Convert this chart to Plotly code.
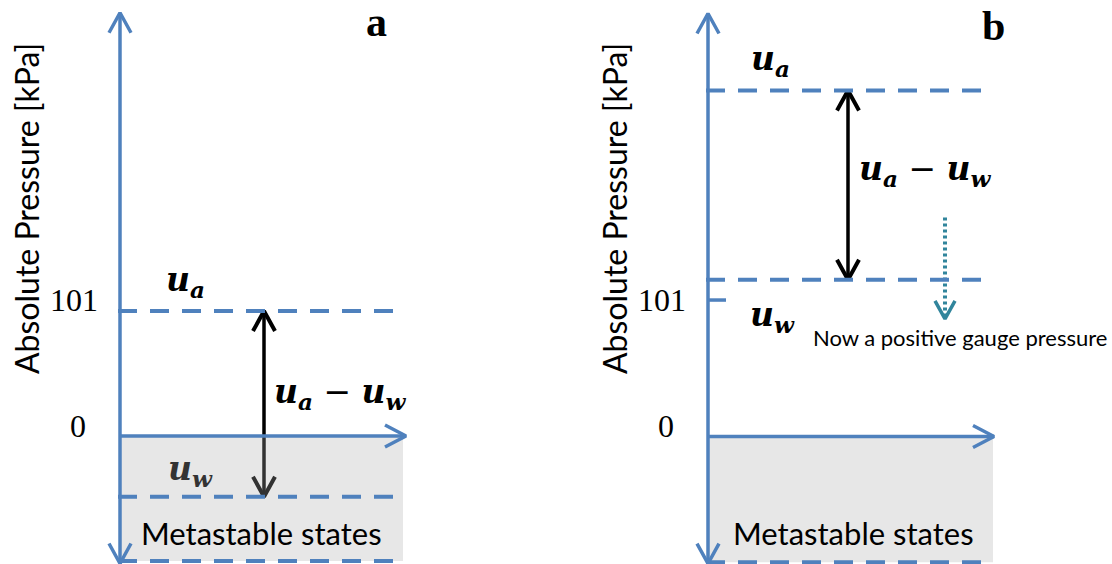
import plotly.graph_objects as go

# Pressure levels (kPa) for the two states
panel_names = ["a", "b"]
tick_values = [0, 101]
tick_labels = ["0", "101"]
air_pressure = [101, 256]        # u_a in panel a, panel b
water_pressure = [-49, 116]      # u_w in panel a, panel b
metastable_floor = [-101, -93]   # lower edge of the metastable region
axis_top = [342, 313]            # tip of the pressure axis
axis_bottom = [-103, -94]
gauge_arrow = [162, 87]          # dotted arrow in panel b (start, tip)

# y ranges per panel (kPa) -> set the vertical scale of each sketch
y_ranges = [[-103.4, 352.3], [-94.3, 323.0]]

W, H = 1112, 564
BLUE = "#4f81bd"
TEAL = "#31859c"

# horizontal layout of each panel (local pixel units of its x axis)
x_origin = [120, 152]
x_end_arrow = [406, 438]
x_dash_end = [401, 430]
x_fill_end = [403, 437]
x_diff = [264, 292]

fig = go.Figure()


def px_per_unit(i):
    r = y_ranges[i]
    return H / (r[1] - r[0])


def axes(i):
    return ("x", "y") if i == 0 else ("x2", "y2")


def line(i, xs, ys, color, width, dash="solid"):
    xa, ya = axes(i)
    fig.add_trace(go.Scatter(x=xs, y=ys, mode="lines", xaxis=xa, yaxis=ya,
                             line=dict(color=color, width=width, dash=dash),
                             hoverinfo="skip", showlegend=False))


def chevron(i, x, y, direction, color, width, half=10, length=20):
    k = px_per_unit(i)
    if direction == "up":
        xs = [x - half, x, x + half]
        ys = [y - length / k, y, y - length / k]
    elif direction == "down":
        xs = [x - half, x, x + half]
        ys = [y + length / k, y, y + length / k]
    else:  # right
        xs = [x - length, x, x - length]
        ys = [y + half / k, y, y - half / k]
    line(i, xs, ys, color, width)


def diff_arrow(i):
    line(i, [x_diff[i], x_diff[i]], [air_pressure[i], water_pressure[i]], "black", 3.5)
    chevron(i, x_diff[i], air_pressure[i], "up", "black", 4, 11, 20)
    chevron(i, x_diff[i], water_pressure[i], "down", "black", 4, 11, 20)


for i in range(2):
    xa, ya = axes(i)
    x0 = x_origin[i]
    # in panel a the arrow reaches into the metastable region, so it goes first
    if i == 0:
        diff_arrow(i)
    # metastable region (translucent so anything underneath shows darker)
    fig.add_trace(go.Scatter(
        x=[x0, x_fill_end[i], x_fill_end[i], x0, x0],
        y=[0, 0, metastable_floor[i], metastable_floor[i], 0],
        mode="lines", fill="toself", fillcolor="rgba(173,173,173,0.29)",
        line=dict(width=0), xaxis=xa, yaxis=ya, hoverinfo="skip", showlegend=False))
    if i == 1:
        diff_arrow(i)
        # shift of water pressure above atmospheric
        gx = 945 - 556
        line(i, [gx, gx], [gauge_arrow[0], gauge_arrow[1] + 3], TEAL, 4, "3px,3px")
        chevron(i, gx, gauge_arrow[1], "down", TEAL, 3.5, 10, 18)
        # tick mark for atmospheric pressure
        line(i, [x0, x0 + 18], [tick_values[1], tick_values[1]], BLUE, 3.5)

    # dashed pressure levels
    for lvl in (air_pressure[i], water_pressure[i], metastable_floor[i]):
        line(i, [x0 - 2, x_dash_end[i]], [lvl, lvl], BLUE, 4, "19px,13px")

    # pressure axis (vertical) and zero line (horizontal)
    line(i, [x0, x0], [axis_bottom[i], axis_top[i]], BLUE, 3.5)
    chevron(i, x0, axis_top[i], "up", BLUE, 3.5, 11, 20)
    chevron(i, x0, axis_bottom[i], "down", BLUE, 3.5, 11, 20)
    line(i, [x0, x_end_arrow[i]], [0, 0], BLUE, 3.5)
    chevron(i, x_end_arrow[i], 0, "right", BLUE, 3.5, 11, 21)

MATH = "DejaVu Serif"
SANS = "Lato"
SERIF = "Liberation Serif"
ua = "<b><i>u</i></b><sub><b><i>a</i></b></sub>"
uw = "<b><i>u</i></b><sub><b><i>w</i></b></sub>"


def y_at_px(i, py):
    r = y_ranges[i]
    return r[1] - py / px_per_unit(i)


def text(i, x, y, s, size, family, color="black", xanchor="center", angle=0):
    xa, ya = axes(i)
    fig.add_annotation(x=x, y=y, xref=xa, yref=ya,
                       text=s, showarrow=False, xanchor=xanchor, yanchor="middle",
                       textangle=angle, font=dict(size=size, family=family, color=color))


for i in range(2):
    x0 = x_origin[i]
    # tick labels
    y101 = y_at_px(0, 300) if i == 0 else tick_values[1]
    text(i, x0 - 20, y101, tick_labels[1], 32, SERIF, xanchor="right")
    text(i, x0 - 32, tick_values[0] + 8, tick_labels[0], 32, SERIF, xanchor="right")
    # axis title
    text(i, x0 - 94, y_at_px(i, 209), "Absolute Pressure [kPa]", 32, SANS, angle=-90)
    # metastable label
    text(i, x0 + 141 + (4 if i else 0), y_at_px(i, 533), "Metastable states", 31, SANS)
    # panel letter
    text(i, x0 + (256 if i == 0 else 285), y_at_px(i, 22 if i == 0 else 26),
         "<b>" + panel_names[i] + "</b>", 42, SERIF)

# panel a labels
text(0, 185, y_at_px(0, 281), ua, 33, MATH)
text(0, 340, y_at_px(0, 393), ua + " − " + uw, 33, MATH)
text(0, 190, y_at_px(0, 470), uw, 33, MATH, color="#333333")
# panel b labels
text(1, 770 - 556, y_at_px(1, 60), ua, 33, MATH)
text(1, 925 - 556, y_at_px(1, 170), ua + " − " + uw, 33, MATH)
text(1, 772 - 556, y_at_px(1, 316), uw, 33, MATH)
text(1, 960 - 556, y_at_px(1, 337), "Now a positive gauge pressure", 22, SANS)

fig.update_layout(
    width=W, height=H, margin=dict(l=0, r=0, t=0, b=0),
    paper_bgcolor="white", plot_bgcolor="white", showlegend=False,
    xaxis=dict(domain=[0, 0.5], range=[0, 556], visible=False),
    xaxis2=dict(domain=[0.5, 1], range=[0, 556], visible=False),
    yaxis=dict(domain=[0, 1], range=y_ranges[0], visible=False, anchor="x"),
    yaxis2=dict(domain=[0, 1], range=y_ranges[1], visible=False, anchor="x2"),
)

fig.write_html("out.html")
